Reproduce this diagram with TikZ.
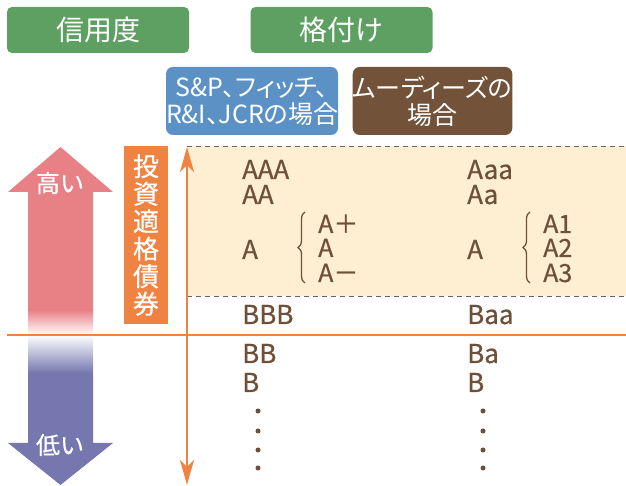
\documentclass[tikz,border=0pt]{standalone}
\usepackage{fontspec}
\setmainfont{Noto Sans CJK JP}[RawFeature={+palt}]
\newfontfamily\ratefont{Noto Sans CJK JP}[FakeBold=0.6]
\usetikzlibrary{arrows.meta, decorations.pathreplacing, positioning}
\definecolor{headgreen}{HTML}{5DA062}
\definecolor{agencyblue}{HTML}{5B91C5}
\definecolor{agencybrown}{HTML}{725339}
\definecolor{lineorange}{HTML}{F08341}
\definecolor{bandcream}{HTML}{FFEFD2}
\definecolor{ratebrown}{HTML}{6E5038}
\definecolor{highpink}{HTML}{E88186}
\definecolor{lowpurple}{HTML}{7577AE}

\begin{document}
\begin{tikzpicture}[x=1pt, y=1pt]
        \tikzstyle{headbox} = [rectangle, rounded corners=5pt, minimum width=182pt, minimum height=46pt, text centered, fill=headgreen, text=white, font=\fontsize{28}{30}\selectfont]
        \tikzstyle{agencybox} = [rectangle, rounded corners=7pt, minimum height=68pt, align=center, text=white, inner sep=0pt, font=\fontsize{25}{27}\selectfont]
        \tikzstyle{rating} = [anchor=base west, inner sep=0pt, text=ratebrown, font=\ratefont\fontsize{26}{28}\selectfont]
        \tikzstyle{subrating} = [rating, font=\ratefont\fontsize{25}{27}\selectfont]
        \tikzstyle{dotmark} = [circle, fill=ratebrown, inner sep=0pt, minimum size=5pt]
        \tikzstyle{arrow} = [line width=2.5pt, draw=lineorange, {Stealth[length=25pt,width=14pt,inset=7pt]}-{Stealth[length=25pt,width=14pt,inset=7pt]}]
        \tikzstyle{bandline} = [draw=black!60, line width=0.8pt, dash pattern=on 5pt off 4pt]
        \tikzstyle{bracestyle} = [draw=ratebrown, line width=1.3pt, decorate, decoration={brace, amplitude=7pt}]

        \useasboundingbox (0,0) rectangle (626,486);

        % Investment grade band
        \fill[bandcream] (187,190) rectangle (626,340);
        \coordinate (bandtl) at (187,340);
        \coordinate (bandtr) at (626,340);
        \coordinate (bandbl) at (187,190);
        \coordinate (bandbr) at (626,190);
        \draw [bandline] (bandtl) -- (bandtr);
        \draw [bandline] (bandbl) -- (bandbr);

        % High / low arrow
        \begin{scope}
            \clip (60.5,339) -- (113,294) -- (93,294) -- (93,43) -- (113,43) -- (60.5,1)
                -- (8,43) -- (28,43) -- (28,294) -- (8,294) -- cycle;
            \fill[highpink] (0,176) rectangle (120,340);
            \shade[top color=highpink, bottom color=white] (0,151) rectangle (120,176);
            \shade[top color=white, bottom color=lowpurple] (0,113) rectangle (120,151);
            \fill[lowpurple] (0,0) rectangle (120,113);
        \end{scope}
        \node (high) [text=white, font=\ratefont\fontsize{24}{26}\selectfont] at (60,303) {高い};
        \node (low) [text=white, font=\ratefont\fontsize{24}{26}\selectfont] at (60,41) {低い};

        % Headers
        \node (credit) [headbox] at (98,456) {信用度};
        \node (grade) [headbox] at (341.5,456) {格付け};
        \node (sp) [agencybox, fill=agencyblue, minimum width=162pt] at (252,385) {S\&P、フィッチ、\\R\&I、JCRの場合};
        \node (moody) [agencybox, fill=agencybrown, minimum width=159pt] at (432.5,385) {ムーディーズの\\場合};

        % Investment grade label
        \node (invest) [rectangle, fill=lineorange, text=white, minimum width=44pt, minimum height=178pt, inner sep=0pt, align=center, font=\ratefont\fontsize{26}{27.5}\selectfont] at (146,251) {投\\資\\適\\格\\債\\券};

        % Axis lines
        \coordinate (hleft) at (7,151);
        \coordinate (hright) at (626,151);
        \draw [lineorange, line width=2pt] (hleft) -- (hright);
        \coordinate (vtop) at (187,339);
        \coordinate (vbottom) at (187,1);
        \draw [arrow] (vbottom) -- (vtop);

        % S&P column
        \node (sAAA) [rating] at (242,307) {AAA};
        \node (sAA) [rating] at (242,282) {AA};
        \node (sA) [rating] at (242,227) {A};
        \node (sAp) [subrating] at (318,253) {A＋};
        \node (sAm) [subrating] at (318,229) {A};
        \node (sAn) [subrating] at (318,204) {A－};
        \node (sBBB) [rating] at (242,162) {BBB};
        \node (sBB) [rating] at (242,123) {BB};
        \node (sB) [rating] at (242,94) {B};
        \node (sdot1) [dotmark] at (258,75) {};
        \node (sdot2) [dotmark] at (258,55) {};
        \node (sdot3) [dotmark] at (258,36) {};
        \node (sdot4) [dotmark] at (258,18) {};
        \coordinate (sbrbot) at (305,203);
        \coordinate (sbrtop) at (305,274);
        \draw [bracestyle] (sbrbot) -- (sbrtop);

        % Moody's column
        \node (mAaa) [rating] at (467,307) {Aaa};
        \node (mAa) [rating] at (467,282) {Aa};
        \node (mA) [rating] at (467,227) {A};
        \node (mA1) [subrating] at (543,253) {A1};
        \node (mA2) [subrating] at (543,229) {A2};
        \node (mA3) [subrating] at (543,204) {A3};
        \node (mBaa) [rating] at (467,162) {Baa};
        \node (mBa) [rating] at (467,123) {Ba};
        \node (mB) [rating] at (467,94) {B};
        \node (mdot1) [dotmark] at (483,75) {};
        \node (mdot2) [dotmark] at (483,55) {};
        \node (mdot3) [dotmark] at (483,36) {};
        \node (mdot4) [dotmark] at (483,18) {};
        \coordinate (mbrbot) at (530,203);
        \coordinate (mbrtop) at (530,274);
        \draw [bracestyle] (mbrbot) -- (mbrtop);
    \end{tikzpicture}
\end{document}
